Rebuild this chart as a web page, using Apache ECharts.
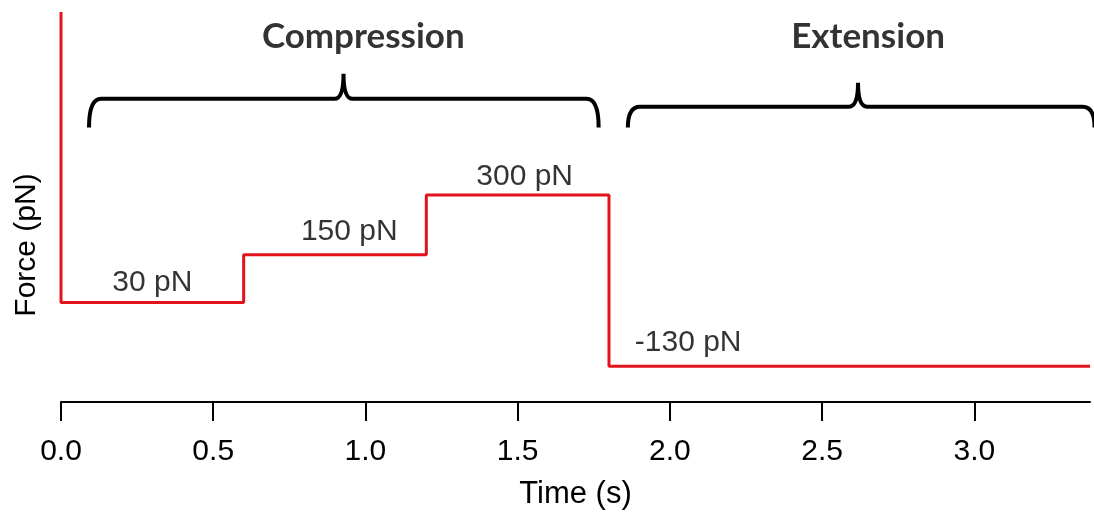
<!DOCTYPE html>
<html>
<head>
<meta charset="utf-8">
<script src="https://cdn.jsdelivr.net/npm/echarts@6/dist/echarts.min.js"></script>
<style>
html,body{margin:0;padding:0;background:#fff;}
#chart{width:1094px;height:515px;}
</style>
</head>
<body>
<div id="chart"></div>
<script>
// force protocol: time (s) vs force (pN)
var stepTimes = [0, 0, 0.6, 1.2, 1.8, 3.38];
var stepForces = [760, 30, 150, 300, -130, -130];
var xTicks = [0, 0.5, 1.0, 1.5, 2.0, 2.5, 3.0];

// step labels [time, force, text]
var stepLabels = [
  [0.30, 80, '30 pN'],
  [0.947, 207, '150 pN'],
  [1.523, 347, '300 pN'],
  [2.06, -70, '-130 pN']
];

// braces: [start, end, peak, level, peakTop, bottom]
var braces = [
  [0.092, 1.766, 0.928, 542, 605, 470],
  [1.862, 3.395, 2.618, 522, 582, 470]
];
var braceTitles = [
  [0.993, 697, 'Compression'],
  [2.651, 697, 'Extension']
];

var myChart = echarts.init(document.getElementById('chart'));

var lineData = stepTimes.map(function(t, i){ return [t, stepForces[i]]; });

function braceItem(params, api){
  var a = api.coord([api.value(0), api.value(3)]);
  var b = api.coord([api.value(1), api.value(3)]);
  var m = api.coord([api.value(2), api.value(4)]);
  var bot = api.coord([0, api.value(5)])[1];
  var y = a[1], r = 12, s = 9;
  var d = 'M' + a[0] + ' ' + bot +
    ' Q' + a[0] + ' ' + y + ' ' + (a[0] + r) + ' ' + y +
    ' L' + (m[0] - s) + ' ' + y +
    ' Q' + m[0] + ' ' + y + ' ' + m[0] + ' ' + m[1] +
    ' Q' + m[0] + ' ' + y + ' ' + (m[0] + s) + ' ' + y +
    ' L' + (b[0] - r) + ' ' + y +
    ' Q' + b[0] + ' ' + y + ' ' + b[0] + ' ' + bot;
  return {
    type: 'path',
    shape: { pathData: d },
    style: { fill: null, stroke: '#000', lineWidth: 4 }
  };
}

var option = {
  animation: false,
  grid: { left: 61, right: 4, top: 12, bottom: 111 },
  xAxis: {
    type: 'value',
    min: 0,
    max: 3.38,
    interval: 0.5,
    name: 'Time (s)',
    nameLocation: 'middle',
    nameGap: 77,
    nameTextStyle: { fontFamily: 'Liberation Sans', fontSize: 31, color: '#000' },
    splitLine: { show: false },
    axisLine: { onZero: false, lineStyle: { color: '#000', width: 2 } },
    axisTick: { length: 19, lineStyle: { color: '#000', width: 2 }, customValues: xTicks },
    axisLabel: {
      margin: 35,
      fontFamily: 'Liberation Sans',
      fontSize: 30,
      color: '#000',
      customValues: xTicks,
      formatter: function(v){ return v.toFixed(1); }
    }
  },
  yAxis: {
    type: 'value',
    min: -220,
    max: 760,
    axisLine: { show: false },
    axisTick: { show: false },
    axisLabel: { show: false },
    splitLine: { show: false }
  },
  graphic: [{
    type: 'text',
    x: 27, y: 245,
    rotation: Math.PI / 2,
    style: {
      text: 'Force (pN)',
      font: '30px "Liberation Sans"',
      fill: '#000',
      align: 'center',
      verticalAlign: 'middle'
    }
  }],
  series: [
    {
      name: 'Force',
      type: 'line',
      step: 'end',
      data: lineData,
      symbol: 'none',
      lineStyle: { color: '#e3131b', width: 3 },
      z: 3
    },
    {
      type: 'custom',
      renderItem: braceItem,
      data: braces,
      clip: false,
      silent: true
    },
    {
      type: 'scatter',
      symbolSize: 0,
      silent: true,
      data: stepLabels,
      label: {
        show: true,
        position: 'inside',
        fontFamily: 'Liberation Sans',
        fontSize: 30,
        color: '#000',
        formatter: function(p){ return p.value[2]; }
      }
    },
    {
      type: 'scatter',
      symbolSize: 0,
      silent: true,
      data: braceTitles,
      label: {
        show: true,
        position: 'inside',
        fontFamily: 'Lato',
        fontWeight: 'bold',
        fontSize: 35,
        color: '#000',
        formatter: function(p){ return p.value[2]; }
      }
    }
  ]
};
myChart.setOption(option);
</script>
</body>
</html>
